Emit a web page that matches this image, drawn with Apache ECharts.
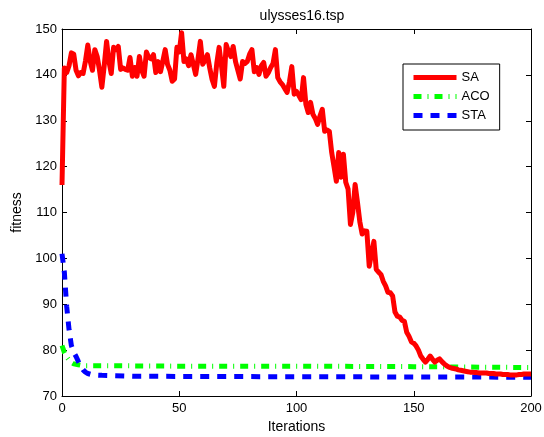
<!DOCTYPE html>
<html>
<head>
<meta charset="utf-8">
<script src="https://cdn.jsdelivr.net/npm/echarts@6/dist/echarts.min.js"></script>
<style>html,body{margin:0;padding:0;background:#fff;}#c{width:544px;height:437px;}</style>
</head>
<body>
<div id="c"></div>
<script>
var title = 'ulysses16.tsp';
var xName = 'Iterations';
var yName = 'fitness';
var seriesNames = ['SA', 'ACO', 'STA'];

var saIter = [];
for (var i = 0; i <= 200; i++) saIter.push(i);
var saValues = [
  116, 141.5, 140.5, 142, 144.8, 144.5, 141, 139.8, 140.5, 140.3,
  143, 146.5, 143, 141, 145.5, 144, 141, 137.3, 142, 147.3,
  143, 140.3, 146, 145.5, 146.2, 141.2, 141.5, 141.2, 141, 143.8,
  139.7, 141.6, 139.7, 144, 141, 139.7, 145, 143.8, 143.5, 144.4,
  140.5, 142.9, 140.7, 143, 145.5, 142.3, 141, 138.6, 139.1, 146,
  145, 149.2, 142.9, 143.5, 142, 144.4, 142.3, 140.1, 143.5, 147.3,
  142.3, 143.2, 144.4, 141.5, 139, 137.5, 142.5, 146, 142, 137.5,
  146.6, 145.1, 144, 146.2, 142.9, 141, 139.1, 142.9, 142.5, 142.9,
  144.5, 145.5, 140.7, 141.6, 140.1, 142, 142.7, 139.7, 140.5, 141.6,
  142.5, 145.5, 139.4, 138.5, 137.9, 137, 136.2, 138.5, 141.8, 135.8,
  136.4, 135.5, 134.6, 139.4, 133.6, 131.8, 134, 131.4, 130.5, 129.2,
  131, 132.5, 127.7, 128, 127.7, 123.1, 120, 116.8, 123.1, 117.7,
  122.7, 116.6, 115.1, 107.4, 110, 116.1, 112.2, 108, 105.3, 106,
  105.9, 98.3, 101, 103.7, 97.6, 97, 96.5, 95, 94, 92.6,
  92.5, 91.8, 88.3, 87.4, 87.2, 86.5, 86.3, 83.9, 83, 81.8,
  81.5, 80.9, 80, 78.7, 78, 77.4, 78, 78.7, 78, 77.4,
  77.8, 78.1, 77.5, 77, 76.6, 76.3, 76.1, 76, 75.9, 75.7,
  75.6, 75.5, 75.4, 75.3, 75.2, 75.2, 75.1, 75.1, 75, 75,
  75, 75, 74.9, 74.9, 74.9, 74.8, 74.8, 74.8, 74.7, 74.7,
  74.7, 74.6, 74.6, 74.6, 74.6, 74.7, 74.7, 74.8, 74.8, 74.8,
  74.8
];

var acoIter = [0, 1, 2, 3, 4, 5, 6, 7, 8, 10, 20, 50, 100, 150, 200];
var acoValues = [81, 79.5, 78.5, 77.8, 77.3, 77, 76.9, 76.8, 76.7, 76.6, 76.6, 76.5, 76.5, 76.4, 76.2];

var staIter = [0, 1, 2, 3, 4, 5, 6, 7, 8, 9, 10, 11, 13, 17, 30, 100, 200];
var staValues = [101, 97, 89.5, 84.5, 81, 79.5, 78.6, 77.5, 76.5, 75.7, 75.2, 74.9, 74.6, 74.5, 74.3, 74.2, 74.1];

var xTicks = {min: 0, max: 200, interval: 50};
var yTicks = {min: 70, max: 150, interval: 10};

function pairs(xs, ys) { return xs.map(function (x, k) { return [x, ys[k]]; }); }

var FONT = '"Liberation Sans", Arial, sans-serif';
var axisLine = {show: true, onZero: false, lineStyle: {color: '#000', width: 1}};
var axisTick = {show: true, inside: true, length: 5, lineStyle: {color: '#000', width: 1}};

var chart = echarts.init(document.getElementById('c'), null, {renderer: 'canvas'});
chart.setOption({
  animation: false,
  backgroundColor: '#fff',
  title: {
    text: title, left: 297, top: 4, textAlign: 'center',
    textStyle: {fontFamily: FONT, fontSize: 14, fontWeight: 'normal', color: '#000'}
  },
  grid: {left: 62, right: 13, top: 29, bottom: 41, containLabel: false, outerBoundsMode: 'none'},
  legend: {
    orient: 'vertical', left: 403, top: 64,
    padding: [7, 10, 8, 8], itemGap: 6, itemWidth: 43, itemHeight: 14,
    borderColor: '#000', borderWidth: 1, backgroundColor: '#fff',
    itemStyle: {opacity: 0},
    lineStyle: {width: 5},
    textStyle: {fontFamily: FONT, fontSize: 13, color: '#000'},
    data: seriesNames
  },
  xAxis: [
    {type: 'value', position: 'bottom', min: xTicks.min, max: xTicks.max, interval: xTicks.interval,
     name: xName, nameLocation: 'middle', nameGap: 24,
     nameTextStyle: {fontFamily: FONT, fontSize: 14, color: '#000'},
     axisLine: axisLine, axisTick: axisTick,
     axisLabel: {fontFamily: FONT, fontSize: 13, color: '#000', margin: 6},
     splitLine: {show: false}},
    {type: 'value', position: 'top', min: xTicks.min, max: xTicks.max, interval: xTicks.interval,
     axisLine: axisLine, axisTick: axisTick, axisLabel: {show: false}, splitLine: {show: false}}
  ],
  yAxis: [
    {type: 'value', position: 'left', min: yTicks.min, max: yTicks.max, interval: yTicks.interval,
     name: yName, nameLocation: 'middle', nameGap: 27,
     nameTextStyle: {fontFamily: FONT, fontSize: 14, color: '#000'},
     axisLine: axisLine, axisTick: axisTick,
     axisLabel: {fontFamily: FONT, fontSize: 13, color: '#000', margin: 5},
     splitLine: {show: false}},
    {type: 'value', position: 'right', min: yTicks.min, max: yTicks.max, interval: yTicks.interval,
     axisLine: axisLine, axisTick: axisTick, axisLabel: {show: false}, splitLine: {show: false}}
  ],
  series: [
    {name: seriesNames[0], type: 'line', data: pairs(saIter, saValues), symbol: 'none', smooth: false,
     color: '#ff0000', lineStyle: {color: '#ff0000', width: 5, join: 'round'}, z: 3},
    {name: seriesNames[1], type: 'line', data: pairs(acoIter, acoValues), symbol: 'none',
     color: '#00ff00', lineStyle: {color: '#00ff00', width: 5, type: [8, 6, 1, 6], cap: 'butt'}, z: 2},
    {name: seriesNames[2], type: 'line', data: pairs(staIter, staValues), symbol: 'none',
     color: '#0000ff', lineStyle: {color: '#0000ff', width: 5, type: [9, 8], cap: 'butt'}, z: 2}
  ]
});
</script>
</body>
</html>
